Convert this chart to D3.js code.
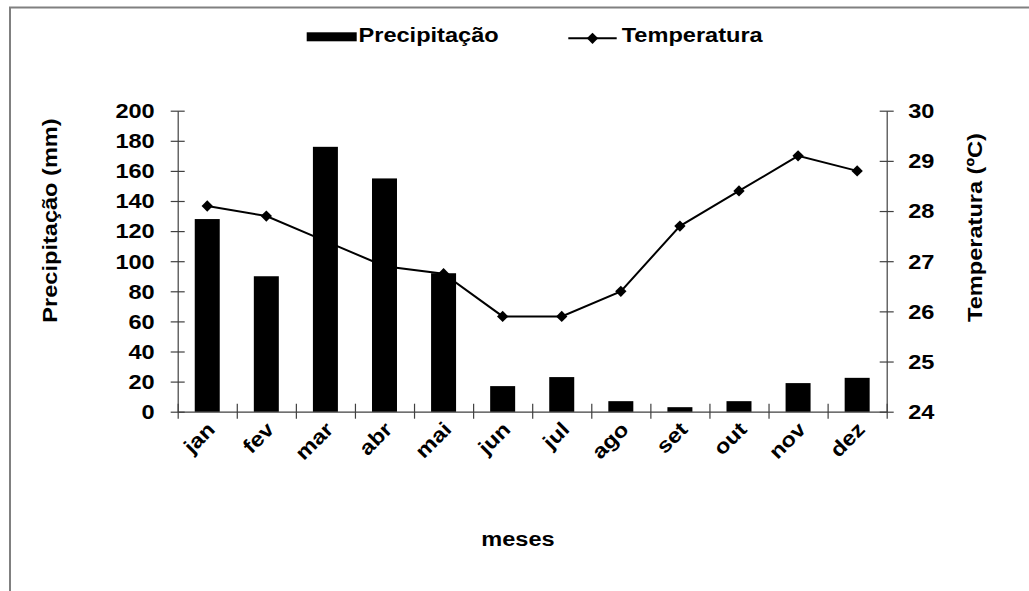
<!DOCTYPE html>
<html>
<head>
<meta charset="utf-8">
<script src="https://cdn.jsdelivr.net/npm/d3@7"></script>
<style>
  html, body { margin: 0; padding: 0; background: #fff; }
  svg { display: block; }
  text { font-family: "Liberation Sans", Arial, sans-serif; font-weight: bold; fill: #000; }
</style>
</head>
<body>
<svg id="chart" width="1029" height="591"></svg>
<script>
// ---- data ----
const months = ["jan","fev","mar","abr","mai","jun","jul","ago","set","out","nov","dez"];
const precipitation = [128, 90, 176, 155, 92, 17, 23, 7, 3, 7, 19, 22.5];
const temperature = [28.1, 27.9, 27.4, 26.9, 26.75, 25.9, 25.9, 26.4, 27.7, 28.4, 29.1, 28.8];
const precipTicks = [0, 20, 40, 60, 80, 100, 120, 140, 160, 180, 200];
const tempTicks = [24, 25, 26, 27, 28, 29, 30];
const seriesNames = ["Precipitação", "Temperatura"];
const axisTitles = { left: "Precipitação (mm)", right: "Temperatura (ºC)", bottom: "meses" };

// ---- layout ----
const W = 1029, H = 591;
const pL = 177.7, pR = 886.7, pT = 110.7, pB = 411.7;
const FS = 20.5, SX = 1.15, AXC = "#404040";

const svg = d3.select("#chart");

// frame
svg.append("path")
  .attr("d", `M10,${H + 2} L10,7.5 L${W + 2},7.5`)
  .attr("fill", "none").attr("stroke", "#808080").attr("stroke-width", 2);

const x = d3.scaleBand().domain(months).range([pL, pR]).padding(0);
const xLin = d3.scaleLinear().domain([0, months.length]).range([pL, pR]);
const y = d3.scaleLinear().domain([0, 200]).range([pB, pT]);
const yT = d3.scaleLinear().domain([24, 30]).range([pB, pT]);

function stretchText(sel, anchor, dx, dy) {
  sel.attr("x", 0).attr("y", 0).attr("dy", null).attr("font-family", null)
    .attr("font-size", FS)
    .attr("transform", `translate(${dx},${dy}) scale(${SX},1)`)
    .attr("text-anchor", anchor);
}

// left axis
const gL = svg.append("g").attr("transform", `translate(${pL},0)`)
  .call(d3.axisLeft(y).tickValues(precipTicks).tickSize(7).tickSizeOuter(0));
gL.selectAll(".tick line").attr("x1", 7).attr("x2", -7);
stretchText(gL.selectAll("text"), "end", -23, 6.8);

// right axis
const gR = svg.append("g").attr("transform", `translate(${pR},0)`)
  .call(d3.axisRight(yT).tickValues(tempTicks).tickSize(7).tickFormat(d3.format("d")).tickSizeOuter(0));
gR.selectAll(".tick line").attr("x1", -7).attr("x2", 7);
stretchText(gR.selectAll("text"), "start", 21.5, 6.8);

// bottom boundary ticks
const gB = svg.append("g").attr("transform", `translate(0,${pB})`)
  .call(d3.axisBottom(xLin).tickValues(d3.range(months.length + 1)).tickSize(7).tickFormat("").tickSizeOuter(0));
gB.selectAll(".tick line").attr("y1", -8).attr("y2", 7);

// month labels
const gM = svg.append("g").attr("transform", `translate(0,${pB})`)
  .call(d3.axisBottom(x).tickSize(0));
gM.select(".domain").remove();
gM.selectAll("text").attr("x", 0).attr("y", 0).attr("dy", null).attr("font-family", null)
  .attr("font-size", FS)
  .attr("transform", `translate(9,19) rotate(-45) scale(${SX},1)`)
  .attr("text-anchor", "end");

[gL, gR, gB].forEach(g => {
  g.selectAll("line, path").attr("stroke", AXC).attr("stroke-width", 1.2);
});

// bars
const barW = x.bandwidth() * 0.423;
svg.append("g").selectAll("rect").data(precipitation).join("rect")
  .attr("x", (d, i) => x(months[i]) + (x.bandwidth() - barW) / 2)
  .attr("y", d => y(d))
  .attr("width", barW)
  .attr("height", d => y(0) - y(d))
  .attr("fill", "#000");

// line
const cx = i => x(months[i]) + x.bandwidth() / 2;
svg.append("path")
  .datum(temperature)
  .attr("d", d3.line().x((d, i) => cx(i)).y(d => yT(d)))
  .attr("fill", "none").attr("stroke", "#000").attr("stroke-width", 2);

const diamond = d3.symbol().type(d3.symbolSquare).size(64);
svg.append("g").selectAll("path").data(temperature).join("path")
  .attr("d", diamond)
  .attr("transform", (d, i) => `translate(${cx(i)},${yT(d)}) rotate(45)`)
  .attr("fill", "#000");

// axis titles
svg.append("text").text(axisTitles.left).attr("font-size", FS).attr("text-anchor", "middle")
  .attr("transform", `translate(57,220.5) rotate(-90) scale(${SX},1)`);
svg.append("text").text(axisTitles.right).attr("font-size", FS).attr("text-anchor", "middle")
  .attr("transform", `translate(981.5,227.5) rotate(-90) scale(${SX},1)`);
svg.append("text").text(axisTitles.bottom).attr("font-size", FS).attr("text-anchor", "middle")
  .attr("transform", `translate(518,546) scale(${SX},1)`);

// legend
const lg = svg.append("g");
lg.append("rect").attr("x", 306.7).attr("y", 32.3).attr("width", 50).attr("height", 9).attr("fill", "#000");
lg.append("text").text(seriesNames[0]).attr("font-size", FS).attr("transform", `translate(358.5,42.3) scale(${SX},1)`);
lg.append("line").attr("x1", 568.3).attr("x2", 616.7).attr("y1", 38.3).attr("y2", 38.3)
  .attr("stroke", "#000").attr("stroke-width", 2);
lg.append("path").attr("d", diamond).attr("transform", "translate(592.5,38.3) rotate(45)").attr("fill", "#000");
lg.append("text").text(seriesNames[1]).attr("font-size", FS).attr("transform", `translate(621.7,42.3) scale(${SX},1)`);
</script>
</body>
</html>
